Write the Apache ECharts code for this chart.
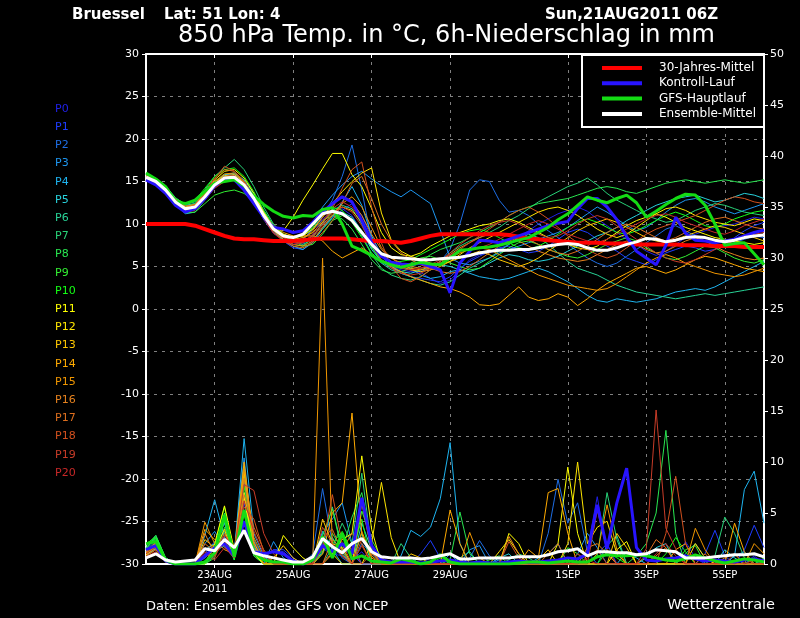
<!DOCTYPE html>
<html>
<head>
<meta charset="utf-8">
<title>Bruessel 850 hPa Temp / 6h-Niederschlag</title>
<script src="https://cdn.jsdelivr.net/npm/echarts@6/dist/echarts.min.js"></script>
<style>
html,body{margin:0;padding:0;background:#000;}
#chart{width:800px;height:618px;}
</style>
</head>
<body>
<div id="chart"></div>
<script type="text/javascript">
// Lauf: Sun,21AUG2011 06Z, 6h-Schritte
var tickIdx = [7, 15, 23, 31, 43, 51, 59];
var tickLabels = ['23AUG\n2011', '25AUG', '27AUG', '29AUG', '1SEP', '3SEP', '5SEP'];

// 30-Jahres-Mittel
var climTemp = [10.0,10.0,10.0,10.0,10.0,9.8,9.4,9.0, 8.6,8.3,8.2,8.2,8.1,8.0,8.0,8.0,
  8.1,8.2,8.3,8.3,8.3,8.2,8.1,8.0, 8.0,7.9,7.8,8.0,8.3,8.6,8.8,8.8,
  8.8,8.8,8.8,8.8,8.8,8.7,8.5,8.3, 8.2,8.1,8.0,7.9,7.8,7.8,7.8,7.7,
  7.7,7.7,7.6,7.6,7.6,7.6,7.6,7.5, 7.5,7.5,7.4,7.4,7.4,7.3,7.3,7.3];
// Kontroll-Lauf
var ctrlTemp = [15.2,14.6,13.6,12.2,11.4,11.8,13.0,14.5, 15.3,15.2,14.0,12.4,10.8,9.6,9.4,9.0,
  9.2,10.2,11.4,12.4,13.2,12.6,10.4,7.8, 6.2,5.5,5.3,5.2,5.4,5.0,4.6,1.9,
  5.4,6.8,8.1,8.0,7.8,8.2,8.6,9.0, 9.4,9.8,10.1,10.3,11.8,13.0,13.0,12.0,
  10.5,8.5,6.8,6.0,5.2,7.5,10.8,8.9, 8.1,8.0,7.8,8.0,8.2,8.6,9.0,9.3];
var ctrlRain = [1.4,1.8,0.3,0,0,0,0.8,1.6, 2.0,0.8,4.2,1.2,1.0,1.2,1.0,0.3,
  0,0.4,1.8,1.2,2.0,1.0,6.5,1.8, 0.4,0.2,0.2,0.2,0.1,0.2,0.3,0.4,
  0.2,0.1,0.2,0.1,0.1,0.2,0.3,0.2, 0.2,0.3,0.4,0.6,0.5,1.0,5.8,1.5,
  6.0,9.4,1.6,0.4,0.3,0.5,0.6,0.8, 0.5,0.3,0.4,0.3,0.2,0.4,0.5,0.3];
// GFS-Hauptlauf
var gfsTemp = [16.0,15.3,14.4,12.6,12.4,12.8,13.8,14.8, 15.0,15.2,14.5,13.3,12.3,11.5,10.9,10.7,
  11.0,10.9,11.7,11.9,10.0,7.4,6.9,6.3, 5.6,5.2,4.9,5.2,5.5,5.3,5.2,6.0,
  6.9,7.0,7.2,7.3,7.5,7.8,8.1,8.4, 9.0,9.6,10.5,11.2,12.2,13.2,12.8,12.5,
  13.0,13.4,12.5,10.8,11.5,12.3,13.0,13.5, 13.4,12.2,10.0,7.5,7.7,7.8,6.5,5.2];
var gfsRain = [2.0,2.2,0.4,0,0,0,0.2,1.1, 4.8,0.7,5.3,1.1,0.4,0.2,0.2,0,
  0,0.4,2.7,0.6,3.0,0.5,0.8,0.3, 0.2,0.1,0.5,0.3,0,0.2,0.9,0.2,
  0,0,0,0,0,0,0.1,0.2, 0.2,0.1,0.2,0.3,0.2,0.2,0.7,0.9,
  0.8,0.8,0.9,0.8,0.6,0.4,0.3,0.5, 0.9,0.6,0.3,0.1,0.3,0.5,0.4,0.2];
// Ensemble-Mittel
var meanTemp = [15.5,15.0,14.0,12.6,11.8,12.0,13.2,14.6, 15.4,15.5,14.6,13.0,11.0,9.4,8.6,8.4,
  8.8,10.0,11.2,11.5,11.2,10.4,9.0,7.6, 6.5,6.1,6.0,5.9,5.8,5.8,5.9,6.0,
  6.1,6.3,6.6,6.8,6.9,6.9,7.0,7.0, 7.2,7.4,7.6,7.7,7.6,7.2,6.9,6.9,
  7.2,7.6,7.9,8.3,8.2,7.9,8.1,8.4, 8.5,8.4,8.1,7.9,8.1,8.4,8.6,8.7];
var meanRain = [0.6,1.0,0.4,0.2,0.3,0.4,1.5,1.3, 2.4,1.6,3.3,1.1,0.8,0.6,0.4,0.2,
  0.2,0.7,2.5,1.7,1.1,2.0,2.5,1.2, 0.7,0.6,0.6,0.6,0.5,0.6,0.8,1.0,
  0.5,0.5,0.6,0.6,0.6,0.6,0.7,0.7, 0.7,0.9,1.2,1.3,1.5,0.8,1.2,1.2,
  1.1,1.1,0.9,1.0,1.4,1.3,1.2,0.6, 0.6,0.6,0.7,0.8,0.9,0.9,1.0,0.7];

// Ensemble-Mitglieder P0..P20: 850 hPa Temperatur
var t00 = [15.3,14.8,13.8,12.3,11.4,11.7,13.1,14.7, 15.6,15.6,14.4,12.6,10.5,8.9,8.2,7.8,
  7.6,8.8,10.6,11.4,11.8,11.0,9.0,6.4, 5.4,5.0,4.6,4.4,4.3,3.6,3.0,3.4,
  4.6,5.8,6.4,6.6,7.0,7.6,8.4,9.2, 10.0,10.6,11.2,11.6,12.0,11.5,10.6,9.8,
  9.0,8.2,7.6,6.8,6.3,6.8,7.6,8.4, 8.8,9.2,9.6,9.8,10.0,10.4,10.8,10.6];
var t01 = [15.6,15.1,14.2,12.8,12.0,12.2,13.5,14.9, 15.8,15.9,15.0,13.4,11.2,9.2,8.0,7.2,
  7.0,8.0,9.6,10.8,11.6,12.4,11.0,8.4, 6.2,5.0,4.2,3.8,3.6,3.4,3.2,3.8,
  4.8,5.6,6.2,6.8,7.2,7.4,7.0,6.6, 6.8,7.4,8.2,9.0,9.4,9.0,8.2,7.4,
  6.8,6.0,5.6,5.2,5.8,6.6,7.0,7.4, 7.2,6.8,7.0,7.6,8.4,9.2,9.8,10.2];
var t02 = [15.4,14.9,13.9,12.5,11.6,11.9,13.0,14.4, 15.2,15.3,14.6,13.2,11.2,9.6,8.6,8.0,
  8.2,9.4,11.0,12.8,15.6,19.3,14.0,8.0, 5.6,5.0,4.8,4.6,4.4,4.8,5.6,7.0,
  10.0,14.0,15.2,15.0,12.8,11.4,11.6,11.0, 10.0,9.2,8.4,7.6,6.8,6.0,5.4,5.0,
  5.4,6.2,7.0,7.8,8.6,9.4,9.8,9.2, 8.6,8.0,7.6,7.4,7.8,8.2,8.6,8.4];
var t03 = [15.7,15.2,14.3,12.9,12.0,12.1,13.3,14.7, 15.5,15.6,14.8,13.3,11.4,9.8,8.8,8.4,
  8.8,10.2,12.0,13.4,14.6,15.6,16.2,15.3, 14.5,13.8,13.2,14.0,13.2,12.4,9.3,6.0,
  5.4,5.2,5.6,6.0,6.6,7.0,7.4,7.8, 8.2,8.6,9.0,9.6,10.4,11.2,12.0,11.4,
  10.6,9.8,9.2,9.6,10.4,11.4,12.2,12.8, 13.0,12.6,12.0,11.6,11.2,11.6,12.0,12.4];
var t04 = [15.5,15.0,14.0,12.4,11.2,11.4,12.8,14.4, 15.2,15.2,14.2,12.6,10.6,9.0,8.2,7.4,
  7.0,7.8,9.4,10.8,12.6,14.4,12.2,8.6, 6.4,5.6,5.2,4.8,4.0,3.6,3.8,4.4,
  4.6,4.2,3.8,3.6,3.4,3.6,4.0,4.4, 4.8,4.4,3.8,3.2,2.4,1.6,1.0,0.8,
  1.2,1.0,0.8,1.0,1.2,1.6,2.0,2.2, 2.4,2.2,2.6,3.2,3.8,4.4,5.0,5.6];
var t05 = [15.8,15.3,14.4,13.0,12.2,12.4,13.7,15.0, 15.8,16.0,15.2,13.6,11.6,9.8,8.6,8.0,
  7.8,8.6,10.0,11.0,11.4,10.8,9.2,7.0, 5.6,4.8,4.4,4.2,4.6,5.0,5.2,5.0,
  4.6,4.4,4.8,5.4,6.0,6.4,6.2,5.8, 5.6,5.8,6.2,6.8,7.4,8.0,8.6,9.0,
  9.6,10.4,11.0,11.6,12.2,12.6,13.0,13.2, 13.4,13.0,12.6,12.8,13.2,13.6,13.4,13.0];
var t06 = [15.6,15.1,14.1,12.6,11.7,11.8,13.0,14.5, 15.4,15.8,15.0,13.2,11.0,9.2,8.2,7.6,
  7.4,8.4,10.2,11.6,12.2,11.8,10.0,7.4, 5.4,4.6,4.2,3.8,3.4,3.0,2.8,3.2,
  4.0,4.8,5.4,6.0,6.8,7.6,8.2,8.8, 8.4,7.6,6.6,5.6,4.8,4.4,4.0,3.4,
  2.8,2.4,2.0,1.8,1.6,1.4,1.2,1.4, 1.6,1.8,1.6,1.8,2.0,2.2,2.4,2.6];
var t07 = [15.9,15.4,14.5,13.1,12.3,12.6,14.0,15.6, 16.6,17.6,16.4,14.4,12.0,10.0,8.8,8.0,
  7.6,8.2,9.4,10.6,11.2,10.4,8.6,6.4, 4.8,4.0,3.6,3.4,3.8,4.6,5.6,6.6,
  7.4,8.0,8.4,9.0,9.6,10.4,11.0,11.8, 12.6,13.2,13.8,14.4,14.8,15.4,14.6,13.6,
  12.8,12.2,11.6,11.0,10.6,10.2,10.4,11.0, 11.6,12.0,12.4,12.2,11.8,11.4,11.2,11.0];
var t08 = [15.7,15.2,14.3,12.9,12.1,12.4,13.6,15.0, 15.6,15.4,14.4,12.8,10.8,9.4,8.6,8.4,
  8.6,9.4,10.4,11.0,10.6,9.4,7.6,5.8, 4.6,4.2,4.4,4.8,5.6,6.4,7.0,7.4,
  7.8,8.4,9.0,9.6,10.2,11.0,11.6,12.0, 12.4,12.6,12.8,13.0,13.4,13.8,14.2,14.4,
  14.2,13.8,13.6,14.0,14.4,14.8,15.0,15.2, 15.0,14.8,15.0,15.2,15.0,14.8,15.0,15.2];
var t09 = [15.5,14.9,13.8,12.3,11.3,11.4,12.4,13.4, 13.8,14.0,13.6,12.6,11.0,9.6,8.6,8.0,
  7.4,7.6,8.8,10.4,11.0,10.6,9.2,7.2, 5.8,5.2,5.0,5.4,6.0,6.2,5.8,5.4,
  5.0,4.6,4.8,5.6,6.4,7.2,7.8,8.0, 7.6,7.0,6.6,6.2,6.0,6.4,7.0,7.6,
  8.0,8.4,8.0,7.2,6.6,6.0,5.8,6.2, 6.8,7.4,7.2,6.6,6.0,5.6,5.4,5.8];
var t10 = [15.8,15.2,14.4,13.0,12.4,12.8,14.2,15.6, 16.4,16.6,15.6,13.8,11.6,9.8,8.8,8.4,
  8.6,9.6,11.2,12.0,11.6,10.2,8.4,6.6, 5.6,5.4,5.6,5.8,6.4,7.0,7.6,8.2,
  8.8,9.2,9.4,9.0,8.4,7.8,7.2,7.0, 7.4,8.0,8.8,9.6,10.2,10.6,10.2,9.6,
  9.0,8.8,9.2,9.8,10.4,11.0,11.4,11.0, 10.4,9.8,9.6,10.0,10.6,11.0,11.4,11.6];
var t11 = [15.4,15.0,14.1,12.7,11.9,12.2,13.6,15.2, 16.2,16.4,15.4,13.6,11.4,9.6,9.2,10.8,
  12.8,14.6,16.5,18.3,18.3,15.8,14.4,11.8, 9.0,7.2,6.4,6.2,6.6,7.4,8.0,8.6,
  9.0,9.4,9.8,10.0,10.4,10.6,10.2,9.6, 9.0,8.4,8.0,7.6,7.2,7.0,7.4,8.2,
  9.0,9.8,10.4,10.8,11.2,10.8,10.2,9.6, 9.2,8.8,8.4,8.2,8.0,7.8,7.6,7.8];
var t12 = [15.6,15.1,14.2,12.8,12.0,12.3,13.5,14.9, 15.7,15.8,14.9,13.3,11.3,9.6,8.8,8.4,
  8.6,9.4,10.8,12.4,13.8,15.0,16.0,16.6, 11.3,8.1,6.8,6.2,5.8,5.4,5.2,5.6,
  6.4,7.2,7.8,8.4,9.0,9.6,10.2,10.8, 11.4,11.8,12.0,11.6,11.0,10.2,9.4,8.8,
  8.4,8.8,9.6,10.4,11.2,11.8,12.0,11.6, 11.0,10.6,10.2,10.0,9.8,10.2,10.6,10.4];
var t13 = [15.3,14.8,13.9,12.4,11.6,11.9,13.1,14.5, 15.2,15.3,14.5,13.0,11.1,9.5,8.6,8.2,
  8.4,9.0,10.2,11.4,12.0,11.6,10.2,8.0, 6.4,5.6,5.0,4.6,4.4,4.6,5.0,5.6,
  6.0,6.4,6.8,6.4,5.8,5.4,5.0,5.4, 6.0,6.8,7.6,8.4,9.2,9.8,10.2,10.6,
  10.2,9.6,9.0,8.4,8.0,7.8,8.2,8.6, 9.0,9.4,9.8,9.6,9.2,8.8,8.4,8.0];
var t14 = [15.5,15.0,14.0,12.5,11.6,11.8,13.0,14.4, 15.2,15.4,14.6,13.0,11.2,9.8,9.0,8.6,
  8.6,8.6,8.0,6.8,6.0,6.6,7.2,6.4, 5.6,5.0,4.4,3.8,3.4,3.0,2.6,2.4,
  2.0,1.4,0.5,0.4,0.6,1.6,2.6,1.4, 1.0,1.2,1.8,1.4,0.4,1.2,2.2,3.0,
  3.6,4.2,4.8,5.0,4.6,4.2,4.6,5.2, 5.8,6.2,6.0,5.6,5.2,4.8,4.6,4.4];
var t15 = [15.6,15.1,14.2,12.7,11.8,12.0,13.4,15.0, 15.9,16.0,15.0,13.2,11.0,9.2,8.2,7.6,
  7.4,8.0,9.6,11.0,12.4,13.2,12.0,9.6, 7.2,6.0,5.2,4.8,4.6,4.8,5.4,6.0,
  6.6,7.0,7.2,7.0,6.4,5.8,5.2,4.6, 4.0,3.6,3.2,2.8,2.6,2.4,2.2,2.4,
  3.0,3.8,4.6,5.4,6.0,6.4,6.0,5.4, 5.0,4.6,4.2,4.0,3.8,4.0,4.4,4.8];
var t16 = [15.4,14.9,13.9,12.4,11.5,11.7,12.9,14.3, 15.1,15.2,14.4,12.8,10.8,9.2,8.4,8.0,
  8.2,9.2,10.8,12.2,13.2,12.6,11.0,8.8, 7.0,6.0,5.4,5.0,4.8,5.0,5.6,6.4,
  7.2,7.8,8.4,8.8,9.0,8.6,8.0,7.4, 6.8,6.4,6.0,5.8,5.6,5.8,6.4,7.0,
  7.6,8.0,7.6,7.0,6.6,6.8,7.4,8.0, 8.4,8.0,7.4,6.8,6.4,6.0,5.8,6.0];
var t17 = [15.7,15.2,14.3,12.9,12.1,12.3,13.8,15.4, 16.4,16.2,15.0,13.0,10.8,9.0,8.0,7.4,
  7.2,7.8,9.0,10.4,12.4,14.8,15.6,13.0, 10.0,8.0,6.6,5.8,5.2,4.8,4.4,4.2,
  4.4,5.0,5.8,6.6,7.4,8.0,8.4,8.2, 7.6,7.0,6.6,6.4,6.8,7.4,8.2,9.0,
  9.6,10.0,9.6,9.0,8.4,8.0,8.4,9.0, 9.6,10.2,10.6,10.8,10.4,10.0,9.6,9.4];
var t18 = [15.5,15.0,14.0,12.6,11.8,12.1,13.6,15.3, 16.8,16.2,15.0,13.2,11.0,9.4,8.6,8.2,
  8.0,8.6,10.0,11.8,14.2,16.4,17.3,12.0, 7.8,5.0,3.6,3.2,3.8,4.6,5.4,6.2,
  7.0,7.8,8.6,9.4,10.2,11.0,11.6,12.0, 11.4,10.6,9.6,8.6,7.8,7.0,6.4,6.0,
  6.4,7.2,8.0,8.8,9.4,9.8,10.2,10.6, 11.0,11.6,12.2,12.8,13.2,13.0,12.6,12.4];
var t19 = [15.6,15.1,14.1,12.7,11.9,12.2,13.4,14.8, 15.6,15.7,14.8,13.1,11.1,9.3,8.4,8.0,
  7.8,8.4,9.8,11.2,12.0,11.4,9.8,7.6, 5.8,4.8,4.2,4.0,4.2,4.8,5.6,6.6,
  7.6,8.4,9.2,9.8,10.2,10.4,10.0,9.4, 8.8,8.4,8.6,9.2,10.0,10.6,11.0,10.6,
  9.8,9.0,8.2,7.4,6.6,6.0,5.6,5.4, 5.8,6.4,7.0,7.6,8.0,8.4,8.8,9.0];
var t20 = [15.4,14.9,13.8,12.3,11.4,11.6,12.8,14.2, 15.0,15.1,14.2,12.6,10.6,8.9,8.0,7.6,
  7.8,8.8,10.4,11.8,12.6,12.0,10.4,8.2, 6.4,5.4,4.8,4.6,4.8,5.2,5.8,6.4,
  6.8,7.0,7.2,7.6,8.2,8.8,9.4,10.0, 10.4,10.0,9.4,8.8,8.4,8.0,7.8,8.2,
  8.8,9.4,10.0,10.6,11.0,11.2,10.8,10.2, 9.8,9.4,9.0,8.8,9.2,9.8,10.2,10.6];

// Ensemble-Mitglieder P0..P20: 6h-Niederschlag (mm)
var r00 = [1.0,1.8,0.4,0,0,0,0.6,1.4, 2.0,0.6,6.0,1.6,0.8,1.4,1.2,0.4,
  0,0,2.0,1.0,0.8,0.4,1.2,0, 0,0,0,0,0,0.6,1.0,0,
  0,0,0,0,0,0,0,0, 0,0,0,0,0,1.4,6.6,1.0,
  0,0,0,0,0,0,0,2.2, 0.6,0,0,0,0,0,0.8,0];
var r01 = [1.2,2.0,0.5,0,0,0,1.0,2.2, 2.6,0.8,8.0,2.0,0.6,1.4,1.4,0.6,
  0,0,1.6,0.8,1.4,1.0,0,0, 0,0,0,0,1.0,2.3,0.6,0,
  0,0,0,0,0,0,0,0, 0,0,0,0,0,0,1.0,2.0,
  0,0,0,0,0,0,0,0, 0,1.0,3.3,0.8,0,1.4,3.8,1.6];
var r02 = [0.8,1.6,0.3,0,0,0,0,1.2, 1.8,0.5,9.0,2.4,0.4,0,0,0,
  0,1.0,7.4,2.0,0.6,0,2.0,1.0, 0,0,0,0,0,0,0,0,
  0,0.6,2.3,0.8,0,0,0,0, 0,3.0,8.3,4.0,6.0,1.2,0,0,
  0,0,0,0,0,0,0,0, 0,0,0,0,0,0,0,0.4];
var r03 = [1.4,2.4,0.6,0,0,0,2.0,3.2, 1.6,1.2,10.4,1.4,0,2.2,0.6,0,
  0,0,3.0,4.4,6.0,2.0,0,0, 0.6,0,0,0,0,0,0,1.0,
  0,1.4,1.8,0,0.4,0,0,0, 0,0,0,0,1.0,3.0,1.6,0,
  0,0,0,0,0,0,0,0, 0,0,0,0,0.8,1.2,0,0];
var r04 = [0.9,1.5,0.2,0,0,0,2.8,6.3, 2.6,1.0,12.3,3.0,0.8,0,0,0,
  0,0.6,3.2,1.4,0,0,0,0, 0,0,0.8,3.3,2.7,3.6,6.4,11.9,
  2.0,0,0,0,0,0,0,0, 0.6,1.0,2.0,0,0,0,0,0,
  0,1.2,0.6,0,0,0,0,0, 0,0,0,0,0.8,7.3,9.1,4.0];
var r05 = [1.6,2.6,0.5,0,0,0,1.4,2.0, 4.0,0.6,7.0,1.8,0,0,0,0,
  0,0,1.2,2.6,1.0,0,4.0,1.4, 0,0,0,0,0,0,0,0,
  0,0,0,0,0.6,1.0,0,0, 0,0,0,0,0,0,0,0,
  0,0,0,0.6,1.6,2.0,0,0, 0,0,0,1.4,0.6,0,0,0];
var r06 = [1.2,2.2,0.4,0,0,0,0.6,1.6, 3.2,0.4,6.4,1.0,0,0,0,0,
  0,0,2.2,5.6,1.4,0,3.0,0, 0,0,0,0,0,0,0,0,
  0.6,1.2,0,0,0,0,0,0, 0,0,0,0,0,0,0,1.8,
  2.8,0,0,0,0,0,0,1.0, 2.0,0.6,0,0,0,0,0,0];
var r07 = [1.4,2.8,0.6,0,0,0,0,0.8, 4.2,0.8,5.0,0.8,0,0,0,0,
  0,0,0,1.6,4.0,2.0,8.9,1.6, 0,0,2.0,0.6,0,0,0,0,
  0,0,0,0,0,0.4,1.0,0.6, 0,0,0,0,0,0,0.8,7.0,
  2.4,0,0,0,0,0,0,0, 0,0,0.8,4.6,3.0,0.6,0,0];
var r08 = [1.8,2.8,0.6,0,0,0,0,1.2, 5.0,0.6,9.6,1.6,0,0,0,0,
  0,0,1.0,3.0,1.4,4.6,7.0,2.0, 0,0,0,0,0,0,0,0.4,
  5.1,1.0,0,0,0,0,0,0, 0,0,0,0,0,0,0,0,
  0,0,0.8,2.0,5.0,13.1,3.0,0, 0,0,0,0,0,0,0.6,0];
var r09 = [1.6,2.5,0.4,0,0,0,0,0.6, 3.6,1.2,8.6,0.8,0,0,0,0,
  0,0,2.8,5.4,1.2,0,5.2,2.4, 0.6,0,0,0,0,0,0,0,
  0,0,0,0.4,0.8,0,0,0, 0,0,0,1.6,1.0,0,0,0,
  0,0,0,0,0,0,0,1.4, 1.8,0,0,0,0,0,0,0.6];
var r10 = [2.0,2.6,0.5,0,0,0,0,1.8, 5.6,0.4,7.6,1.4,0,0,0,0,
  0,0,1.4,2.0,3.2,1.2,4.4,0, 0,0,0,0,0,0,0.6,0,
  0,0,0,0,0,0,0,0, 0,0,0,0,0,0,0,1.2,
  0.6,0,0,0,0,1.0,2.6,1.2, 0,0,0,0,0,0,0,0];
var r11 = [0.8,1.4,0.2,0,0,0,0,2.0, 5.7,1.4,6.6,1.0,0,0,2.8,1.6,
  0.6,0,0,1.0,2.4,3.0,10.6,3.4, 0,0,0,0,0,0,0,0,
  0,0,0,0,0,3.0,2.0,0, 0,0,2.0,9.5,3.0,0,0,0,
  1.4,2.2,0,0,0,0,0,0, 0,0,0,0,0,0,0,0];
var r12 = [0.9,1.6,0.3,0,0,0,0.8,1.4, 3.4,0.6,7.0,1.2,0,0,0,0,
  0,0.8,2.4,1.0,0,0,0,2.0, 8.0,2.6,0,0,0,0,0,0,
  0,0,0,0,1.2,2.4,1.0,0, 0,0,0,2.0,10.0,2.0,3.6,4.2,
  1.0,0,0,0,0,0,0,0, 0,0,0,0,0,0,0,0];
var r13 = [1.0,1.8,0.4,0,0,0,2.4,1.6, 2.2,0.8,9.0,2.2,0,0.6,1.8,0.6,
  0,0,4.4,2.0,1.6,0,6.0,1.2, 0,0,0,1.0,0.6,0,0,0,
  0,0,0,0,0,0,0,0, 0.4,1.4,0,0,0,0,0,0,
  3.0,1.6,0,0,0,0,0,0, 2.0,0.6,0,0,0,0,0,0];
var r14 = [1.2,2.0,0.4,0,0,0,3.4,2.4, 1.4,1.0,10.0,1.6,0,0,0,0,
  0,0,1.0,5.0,6.0,14.8,3.0,0.6, 0,0,0,0,0,0,0,5.3,
  2.0,0,0,0,0,0,0,1.4, 0.6,7.0,7.4,3.0,0,0,0,0,
  0,0,0,0,0,0,1.4,2.0, 0,0,0,0,4.0,1.2,0,0];
var r15 = [1.0,1.7,0.3,0,0,0,4.1,2.0, 1.8,0.6,9.4,2.6,0.6,0,0,0,
  0,0.4,30.0,1.8,0.8,0,3.2,0.8, 0,0,0,0,0,0,0,0,
  0,3.1,0.6,0,0,0,0,0, 0,0,0,0,0,0,1.0,5.8,
  1.4,0,0,0,0,0,0,0, 3.5,1.4,0,0,0,0,2.0,1.0];
var r16 = [1.3,2.1,0.4,0,0,0,3.0,1.0, 2.0,0.8,8.4,2.0,0,0,0,0,
  0,0,0,2.4,1.4,3.0,2.0,0, 0,0,0,0,0,0,0,0,
  0,0,0,0,0,2.7,1.0,0, 0,0,0,0,0,1.6,2.0,1.0,
  0,0,0,0,0.8,1.6,0,0, 0,0,0,0.6,1.0,0,0,0];
var r17 = [1.1,1.9,0.4,0,0,0,2.0,1.2, 3.0,1.2,6.8,3.6,1.4,0,0,0,
  0,0,2.6,3.4,1.2,0,0,1.0, 0.4,0,0,0,0,0,0,0,
  0,0,0,0,0,0,0,0, 0,1.0,2.0,0,0,0,0,0,
  0,0,0,0.8,2.4,1.6,0,0, 0,1.0,0,0,0,0,0,0];
var r18 = [0.8,1.4,0.3,0,0,0,1.6,0.8, 2.4,0.6,5.6,4.4,1.2,0,0,0,
  0,0,1.6,6.8,2.0,0,2.4,1.4, 0,0,0,0,0,0,0,0,
  0,0,0,0,0,2.2,0.6,0, 0,0,0,0,0,0,5.3,1.4,
  0,0,0,0,0,3.0,8.6,2.0, 0,0,0,0,0,0.6,0,0];
var r19 = [1.0,1.6,0.2,0,0,0,1.2,0.6, 2.8,1.4,7.8,7.2,3.0,1.0,0,0,
  0,0,3.6,2.0,0.8,0,1.8,0, 0,0,0,0,0,0,0,0,
  0,0,0,0,0,0,0,0, 0,0,0,0,0,0.6,1.4,0,
  0,0,0,1.5,15.1,3.5,1.5,0, 0,0,0,0,1.0,0,0,0];
var r20 = [0.7,1.2,0.2,0,0,0,1.0,0.4, 1.6,0.6,6.2,3.2,1.0,0,0,0,
  0,0,0,1.2,2.6,1.4,0,0, 0.6,0,0,0,0,0,0,0,
  0,0,0,0,0,0,0,0, 0,0,0,0,1.0,0.4,0,0,
  0,0,0,0,1.0,2.0,0.8,0, 0,0,0,0,0,0,0.4,0];

var memberNames = ['P0','P1','P2','P3','P4','P5','P6','P7','P8','P9','P10',
  'P11','P12','P13','P14','P15','P16','P17','P18','P19','P20'];
var memberColors = ['#2020e6','#1e3cff','#1e6ee6','#1e96f0','#1eb4f0','#28d2dc','#28d296',
  '#28d278','#28e650','#32f032','#14ff14','#ffff00','#ffe600','#ffc800','#ffaa00',
  '#f09600','#e6821e','#dc6e1e','#d2501e','#c83c28','#c82828'];
var memberTemp = [t00,t01,t02,t03,t04,t05,t06,t07,t08,t09,t10,t11,t12,t13,t14,t15,t16,t17,t18,t19,t20];
var memberRain = [r00,r01,r02,r03,r04,r05,r06,r07,r08,r09,r10,r11,r12,r13,r14,r15,r16,r17,r18,r19,r20];

var FONT = 'DejaVu Sans, Liberation Sans, sans-serif';

// Zeitachse: 6h-Schritte ab 21AUG2011 06Z
var startUtc = Date.UTC(2011, 7, 21, 6);
var steps = [];
for (var i = 0; i < meanTemp.length; i++) {
  steps.push(new Date(startUtc + i * 6 * 3600 * 1000).toISOString().slice(0, 13));
}
function isTick(idx) { return tickIdx.indexOf(idx) >= 0; }

function makeLine(name, data, color, width, axis, z) {
  return {
    name: name, type: 'line', data: data, yAxisIndex: axis,
    symbol: 'none', showSymbol: false, silent: true, z: z,
    lineStyle: { width: width, color: color }, itemStyle: { color: color }
  };
}

var series = [];
for (var m = 0; m < memberNames.length; m++) {
  series.push(makeLine(memberNames[m], memberRain[m], memberColors[m], 1, 1, 2));
}
for (var m = 0; m < memberNames.length; m++) {
  series.push(makeLine(memberNames[m], memberTemp[m], memberColors[m], 1, 0, 3));
}
series.push(makeLine('30-Jahres-Mittel', climTemp, '#ff0000', 4, 0, 5));
series.push(makeLine('Kontroll-Lauf', ctrlRain, '#2814ff', 3, 1, 6));
series.push(makeLine('Kontroll-Lauf', ctrlTemp, '#2814ff', 3, 0, 6));
series.push(makeLine('GFS-Hauptlauf', gfsRain, '#14dc14', 3, 1, 7));
series.push(makeLine('GFS-Hauptlauf', gfsTemp, '#14dc14', 3, 0, 7));
series.push(makeLine('Ensemble-Mittel', meanRain, '#ffffff', 3, 1, 8));
series.push(makeLine('Ensemble-Mittel', meanTemp, '#ffffff', 3, 0, 8));

var gridDash = { color: '#808080', width: 1, type: [3, 5] };
var white = { color: '#ffffff', width: 2 };

var chart = echarts.init(document.getElementById('chart'), null, { renderer: 'canvas' });
chart.setOption({
  backgroundColor: '#000000',
  animation: false,
  title: [
    { text: 'Bruessel', left: 72, top: 8, padding: 0,
      textStyle: { color: '#fff', fontSize: 15, fontWeight: 'bold', fontFamily: FONT } },
    { text: 'Lat: 51 Lon: 4', left: 164, top: 8, padding: 0,
      textStyle: { color: '#fff', fontSize: 15, fontWeight: 'bold', fontFamily: FONT } },
    { text: 'Sun,21AUG2011 06Z', left: 545, top: 8, padding: 0,
      textStyle: { color: '#fff', fontSize: 15, fontWeight: 'bold', fontFamily: FONT } },
    { text: '850 hPa Temp. in °C, 6h-Niederschlag in mm', left: 178, top: 24, padding: 0,
      textStyle: { color: '#fff', fontSize: 24, fontWeight: 'normal', fontFamily: FONT } },
    { text: 'Daten: Ensembles des GFS von NCEP', left: 146, top: 600, padding: 0,
      textStyle: { color: '#fff', fontSize: 13, fontWeight: 'normal', fontFamily: FONT } },
    { text: 'Wetterzentrale', right: 25, top: 598, padding: 0,
      textStyle: { color: '#fff', fontSize: 14.5, fontWeight: 'normal', fontFamily: FONT } }
  ],
  legend: [
    {
      orient: 'vertical', left: 48, top: 103, padding: 0,
      itemWidth: 2, itemHeight: 12, itemGap: 6.2, selectedMode: false,
      textStyle: { fontSize: 11, lineHeight: 12, fontFamily: FONT },
      data: memberNames.map(function (n, k) {
        return { name: n, icon: 'none', textStyle: { color: memberColors[k] } };
      })
    },
    {
      orient: 'vertical', left: 602, top: 62, padding: 0, z: 20,
      itemWidth: 40, itemHeight: 4, itemGap: 3.3, selectedMode: false, icon: 'rect',
      textStyle: { color: '#fff', fontSize: 12, lineHeight: 12, fontFamily: FONT, padding: [0, 0, 0, 12] },
      data: ['30-Jahres-Mittel', 'Kontroll-Lauf', 'GFS-Hauptlauf', 'Ensemble-Mittel']
    }
  ],
  graphic: [
    { type: 'rect', left: 581, top: 54, z: 10, silent: true,
      shape: { width: 182, height: 72 },
      style: { fill: '#000', stroke: '#fff', lineWidth: 2 } }
  ],
  grid: { left: 146, right: 36, top: 54, bottom: 54, containLabel: false },
  xAxis: [
    {
      type: 'category', data: steps, boundaryGap: false, position: 'bottom',
      axisLine: { show: true, onZero: false, lineStyle: white },
      axisTick: { show: true, length: 4, interval: function (k) { return isTick(k); },
        lineStyle: { color: '#fff' } },
      axisLabel: {
        color: '#fff', fontSize: 10, lineHeight: 14, margin: 4, fontFamily: FONT,
        interval: function (k) { return isTick(k); },
        formatter: function (v, k) { return tickLabels[tickIdx.indexOf(k)] || ''; }
      },
      splitLine: { show: true, interval: function (k) { return isTick(k); }, lineStyle: gridDash }
    },
    {
      type: 'category', data: steps, boundaryGap: false, position: 'top',
      axisLine: { show: true, onZero: false, lineStyle: white },
      axisTick: { show: true, inside: true, length: 4, interval: function (k) { return isTick(k); },
        lineStyle: { color: '#fff' } },
      axisLabel: { show: false },
      splitLine: { show: false }
    }
  ],
  yAxis: [
    {
      type: 'value', min: -30, max: 30, interval: 5, position: 'left',
      axisLine: { show: true, onZero: false, lineStyle: white },
      axisTick: { show: true, length: 4, lineStyle: { color: '#fff' } },
      axisLabel: { color: '#fff', fontSize: 11, margin: 7, fontFamily: FONT },
      splitLine: { show: true, showMinLine: false, showMaxLine: false, lineStyle: gridDash }
    },
    {
      type: 'value', min: 0, max: 50, interval: 5, position: 'right',
      axisLine: { show: true, onZero: false, lineStyle: white },
      axisTick: { show: true, length: 4, lineStyle: { color: '#fff' } },
      axisLabel: { color: '#fff', fontSize: 11, margin: 6, fontFamily: FONT },
      splitLine: { show: false }
    }
  ],
  series: series
});
</script>
</body>
</html>
